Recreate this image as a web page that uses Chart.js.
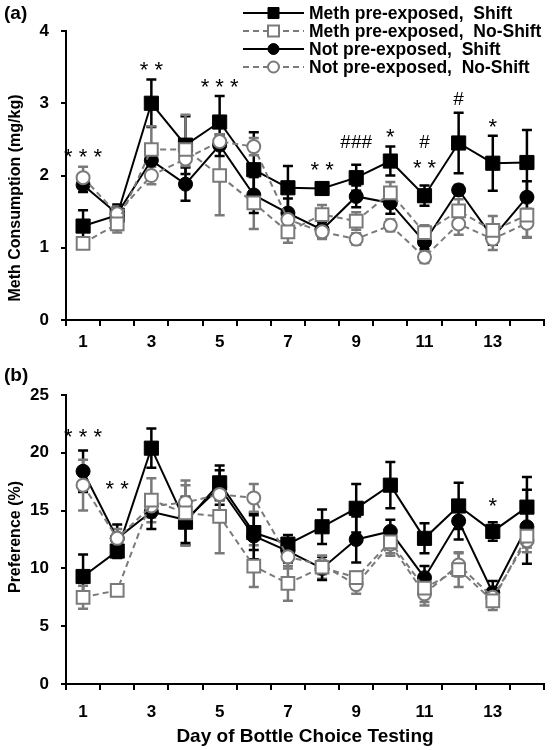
<!DOCTYPE html>
<html>
<head>
<meta charset="utf-8">
<script src="https://cdn.jsdelivr.net/npm/chart.js@4.4.1/dist/chart.umd.min.js"></script>
<style>
  body { margin: 0; background: #fff; font-family: "Liberation Sans", Arial, sans-serif; }
  #wrap { position: relative; width: 555px; height: 750px; }
  .panel { position: absolute; left: 0; }
  .tag { position: absolute; left: 4px; font-weight: bold; font-size: 19px; }
</style>
</head>
<body>
<div id="wrap">
  <canvas id="chartA" class="panel" width="555" height="370" style="top:0"></canvas>
  <canvas id="chartB" class="panel" width="555" height="390" style="top:360px"></canvas>
  <div class="tag" style="top:2px">(a)</div>
  <div class="tag" style="top:364px">(b)</div>
</div>
<script>
// Day of bottle choice testing
const days = ['1', '2', '3', '4', '5', '6', '7', '8', '9', '10', '11', '12', '13', '14']

const legendLabels = ['Meth pre-exposed,  Shift', 'Meth pre-exposed,  No-Shift',
                      'Not pre-exposed,  Shift', 'Not pre-exposed,  No-Shift']

// (a) Meth consumption, mg/kg (mean and SEM)
const consMethShift      = [1.30, 1.45, 3.00, 2.42, 2.74, 2.08, 1.83, 1.82, 1.97, 2.20, 1.72, 2.45, 2.17, 2.18]
const consMethShiftErr   = [0.22, 0.15, 0.33, 0.40, 0.36, 0.52, 0.30, 0.08, 0.18, 0.20, 0.14, 0.42, 0.38, 0.45]
const consMethNoShift    = [1.06, 1.33, 2.36, 2.36, 2.00, 1.62, 1.22, 1.46, 1.37, 1.76, 1.21, 1.51, 1.24, 1.45]
const consMethNoShiftErr = [0.07, 0.12, 0.32, 0.48, 0.55, 0.36, 0.15, 0.13, 0.12, 0.15, 0.10, 0.16, 0.20, 0.30]
const consNotShift       = [1.87, 1.47, 2.21, 1.88, 2.42, 1.73, 1.48, 1.25, 1.71, 1.62, 1.08, 1.80, 1.14, 1.70]
const consNotShiftErr    = [0.10, 0.10, 0.20, 0.23, 0.15, 0.25, 0.20, 0.10, 0.15, 0.15, 0.10, 0.07, 0.10, 0.22]
const consNotNoShift     = [1.97, 1.47, 2.00, 2.23, 2.47, 2.40, 1.39, 1.22, 1.12, 1.31, 0.87, 1.33, 1.12, 1.34]
const consNotNoShiftErr  = [0.15, 0.10, 0.12, 0.10, 0.10, 0.12, 0.10, 0.10, 0.08, 0.08, 0.08, 0.15, 0.15, 0.20]

// (b) Preference, %
const prefMethShift      = [9.3, 11.5, 20.4, 14.0, 17.4, 13.1, 12.1, 13.6, 15.2, 17.2, 12.6, 15.4, 13.2, 15.3]
const prefMethShiftErr   = [1.9, 0.6, 1.7, 2.0, 1.5, 1.5, 0.8, 1.5, 2.1, 2.0, 1.3, 2.0, 0.8, 2.6]
const prefMethNoShift    = [7.5, 8.1, 15.9, 14.8, 14.5, 10.2, 8.7, 10.1, 9.2, 12.3, 8.3, 9.9, 7.2, 12.8]
const prefMethNoShiftErr = [1.0, 0.3, 1.9, 2.8, 3.2, 1.8, 1.5, 1.0, 0.5, 1.0, 1.2, 1.5, 0.8, 1.0]
const prefNotShift       = [18.4, 12.6, 14.9, 14.2, 17.0, 12.8, 11.5, 10.0, 12.5, 13.2, 9.2, 14.1, 7.9, 13.6]
const prefNotShiftErr    = [1.8, 1.2, 1.5, 2.0, 1.5, 2.0, 1.0, 1.0, 2.0, 1.0, 1.0, 1.6, 1.0, 3.2]
const prefNotNoShift     = [17.2, 12.6, 15.4, 15.7, 16.4, 16.1, 11.0, 10.3, 8.6, 12.1, 7.8, 10.3, 7.5, 12.4]
const prefNotNoShiftErr  = [2.2, 0.8, 1.0, 1.5, 1.5, 1.2, 1.0, 0.8, 0.8, 1.0, 1.0, 1.0, 0.8, 1.0]

// Significance marks: day, height in data units, text
const marksADays = ['1', '3', '5', '8', '9', '10', '11', '11', '12', '13']
const marksAVals = [2.30, 3.50, 3.27, 2.12, 2.45, 2.58, 2.45, 2.14, 3.05, 2.72]
const marksAText = ['* * *', '* *', '* * *', '* *', '###', '*', '#', '* *', '#', '*']

const marksBDays = ['1', '2', '13']
const marksBVals = [21.6, 17.1, 15.7]
const marksBText = ['* * *', '* *', '*']

const BLACK = '#000000'
const GREY = '#7a7a7a'
const FONT = '"Liberation Sans", Arial, sans-serif'

function make_datasets(ms, mse, mn, mne, ns, nse, nn, nne) {
    // order: lower value is drawn on top, open markers sit above the filled ones
    return [
        { label: legendLabels[0], data: ms, errors: mse, order: 2,
          borderColor: BLACK, backgroundColor: BLACK, borderWidth: 2,
          pointStyle: 'rect', pointRadius: 10, pointBackgroundColor: BLACK,
          pointBorderColor: BLACK, pointBorderWidth: 1 },
        { label: legendLabels[1], data: mn, errors: mne, order: 0,
          borderColor: GREY, backgroundColor: GREY, borderWidth: 2, borderDash: [6, 4],
          pointStyle: 'rect', pointRadius: 9, pointBackgroundColor: '#ffffff',
          pointBorderColor: GREY, pointBorderWidth: 2 },
        { label: legendLabels[2], data: ns, errors: nse, order: 3,
          borderColor: BLACK, backgroundColor: BLACK, borderWidth: 2,
          pointStyle: 'circle', pointRadius: 7, pointBackgroundColor: BLACK,
          pointBorderColor: BLACK, pointBorderWidth: 1 },
        { label: legendLabels[3], data: nn, errors: nne, order: 1,
          borderColor: GREY, backgroundColor: GREY, borderWidth: 2, borderDash: [6, 4],
          pointStyle: 'circle', pointRadius: 6.5, pointBackgroundColor: '#ffffff',
          pointBorderColor: GREY, pointBorderWidth: 2 },
    ]
}

// SEM bars, drawn under the markers
const errorBars = {
    id: 'errorBars',
    beforeDatasetsDraw(chart) {
        let ctx = chart.ctx
        let xs = chart.scales.x
        let ys = chart.scales.y
        ctx.save()
        for (let ds of chart.data.datasets) {
            ctx.strokeStyle = ds.borderColor
            ctx.lineWidth = 2.5
            ds.data.forEach((v, i) => {
                let x = xs.getPixelForValue(i)
                let top = ys.getPixelForValue(v + ds.errors[i])
                let bot = ys.getPixelForValue(v - ds.errors[i])
                ctx.beginPath()
                ctx.moveTo(x, top); ctx.lineTo(x, bot)
                ctx.moveTo(x - 5, top); ctx.lineTo(x + 5, top)
                ctx.moveTo(x - 5, bot); ctx.lineTo(x + 5, bot)
                ctx.stroke()
            })
        }
        ctx.restore()
    }
}

function marks_plugin(dayList, vals, texts) {
    return {
        id: 'sigMarks',
        afterDatasetsDraw(chart) {
            let ctx = chart.ctx
            ctx.save()
            ctx.fillStyle = BLACK
            ctx.textAlign = 'center'
            ctx.textBaseline = 'middle'
            dayList.forEach((d, i) => {
                let x = chart.scales.x.getPixelForValue(days.indexOf(d))
                let y = chart.scales.y.getPixelForValue(vals[i])
                if (texts[i].startsWith('#')) {
                    ctx.font = '19px ' + FONT
                    ctx.fillText(texts[i], x, y)
                } else {
                    // asterisks sit high in the em box, push them down a bit
                    ctx.font = '22px ' + FONT
                    ctx.fillText(texts[i], x, y + 4)
                }
            })
            ctx.restore()
        }
    }
}

// Rotated y title, centred where the original puts it rather than on the axis
function y_title(text, centreY) {
    return {
        id: 'yTitle',
        afterDraw(chart) {
            let ctx = chart.ctx
            ctx.save()
            ctx.translate(16, centreY)
            ctx.rotate(-Math.PI / 2)
            ctx.fillStyle = BLACK
            ctx.font = 'bold 16px ' + FONT
            ctx.textAlign = 'center'
            ctx.textBaseline = 'middle'
            ctx.fillText(text, 0, 0)
            ctx.restore()
        }
    }
}

// Legend with a line sample and the marker in the middle of it
const sampleLegend = {
    id: 'sampleLegend',
    afterDraw(chart) {
        let ctx = chart.ctx
        ctx.save()
        chart.data.datasets.forEach((ds, i) => {
            let y = 13 + i * 18
            ctx.strokeStyle = ds.borderColor
            ctx.lineWidth = 2
            ctx.setLineDash(ds.borderDash || [])
            ctx.beginPath()
            ctx.moveTo(243, y); ctx.lineTo(304, y)
            ctx.stroke()
            ctx.setLineDash([])
            ctx.fillStyle = ds.pointBackgroundColor
            ctx.strokeStyle = ds.pointBorderColor
            ctx.lineWidth = ds.pointBorderWidth
            ctx.beginPath()
            if (ds.pointStyle == 'rect') {
                ctx.rect(268, y - 5.5, 11, 11)
            } else {
                ctx.arc(273.5, y, 5.5, 0, Math.PI * 2)
            }
            ctx.fill()
            ctx.stroke()
            ctx.fillStyle = BLACK
            ctx.font = 'bold 17.5px ' + FONT
            ctx.textAlign = 'left'
            ctx.textBaseline = 'middle'
            ctx.fillText(ds.label, 309, y + 1)
        })
        ctx.restore()
    }
}

function make_options(ymax, ystep, xtitle, pad, xHeight, xPad) {
    return {
        responsive: false,
        animation: false,
        layout: { padding: pad },
        plugins: { legend: { display: false }, tooltip: { enabled: false } },
        scales: {
            x: {
                type: 'category',
                offset: true,
                afterFit: s => { s.height = xHeight },
                grid: { drawOnChartArea: false, drawTicks: true, tickLength: 6, offset: true,
                        color: BLACK, lineWidth: 2 },
                border: { display: true, color: BLACK, width: 2 },
                ticks: {
                    autoSkip: false, maxRotation: 0, padding: xPad, color: BLACK,
                    font: { family: FONT, size: 17, weight: 'bold' },
                    callback: (v, i) => i % 2 == 0 ? days[i] : ''
                },
                title: {
                    display: xtitle != '', text: xtitle, color: BLACK,
                    padding: { top: 0, bottom: 0 },
                    font: { family: FONT, size: 19, weight: 'bold' }
                }
            },
            y: {
                min: 0, max: ymax,
                afterFit: s => { s.width = 66 },
                grid: { drawOnChartArea: false, drawTicks: true, tickLength: 5,
                        color: BLACK, lineWidth: 2 },
                border: { display: true, color: BLACK, width: 2 },
                ticks: {
                    stepSize: ystep, padding: 12, color: BLACK,
                    font: { family: FONT, size: 17, weight: 'bold' }
                }
            }
        }
    }
}

new Chart(document.getElementById('chartA'), {
    type: 'line',
    data: {
        labels: days,
        datasets: make_datasets(consMethShift, consMethShiftErr, consMethNoShift, consMethNoShiftErr,
                                consNotShift, consNotShiftErr, consNotNoShift, consNotNoShiftErr)
    },
    options: make_options(4, 1, '', { top: 31, right: 8, left: 0, bottom: 0 }, 50, 6),
    plugins: [errorBars, marks_plugin(marksADays, marksAVals, marksAText), sampleLegend,
              y_title('Meth Consumption (mg/kg)', 198)]
})

new Chart(document.getElementById('chartB'), {
    type: 'line',
    data: {
        labels: days,
        datasets: make_datasets(prefMethShift, prefMethShiftErr, prefMethNoShift, prefMethNoShiftErr,
                                prefNotShift, prefNotShiftErr, prefNotNoShift, prefNotNoShiftErr)
    },
    options: make_options(25, 5, 'Day of Bottle Choice Testing',
                          { top: 35, right: 6, left: 0, bottom: 2 }, 64, 12),
    plugins: [errorBars, marks_plugin(marksBDays, marksBVals, marksBText),
              y_title('Preference (%)', 177)]
})
</script>
</body>
</html>
